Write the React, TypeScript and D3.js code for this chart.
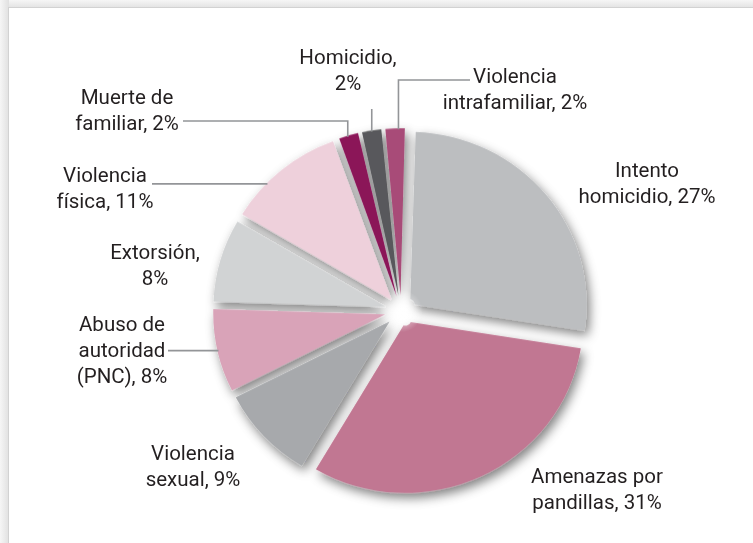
import React from "react";
import * as d3 from "d3";

const categories = [
  "Intento homicidio",
  "Amenazas por pandillas",
  "Violencia sexual",
  "Abuso de autoridad (PNC)",
  "Extorsión",
  "Violencia física",
  "Muerte de familiar",
  "Homicidio",
  "Violencia intrafamiliar",
];
const values = [27, 31, 9, 8, 8, 11, 2, 2, 2];
const labelLines = [
  ["Intento", "homicidio, 27%"],
  ["Amenazas por", "pandillas, 31%"],
  ["Violencia", "sexual, 9%"],
  ["Abuso de", "autoridad", "(PNC), 8%"],
  ["Extorsión,", "8%"],
  ["Violencia", "física, 11%"],
  ["Muerte de", "familiar, 2%"],
  ["Homicidio,", "2%"],
  ["Violencia", "intrafamiliar, 2%"],
];
const colors = [
  "#bcbec0",
  "#c17792",
  "#a7a9ac",
  "#d9a3b8",
  "#d1d3d4",
  "#eed0db",
  "#8b1458",
  "#58595b",
  "#a84c78",
];

// layout (not data)
const W = 753;
const H = 543;
const CX = 401;
const CY = 311;
const R = 178;
const SY = 0.972;
const ROT = (1.8 * Math.PI) / 180;
const EXPLODE = 10;
const PAD = 0.016;
const FONT = 20.5;
const LH = 26;
const labelPos: { x: number; y: number }[] = [
  { x: 647, y: 177 },
  { x: 597, y: 483 },
  { x: 193, y: 460 },
  { x: 122, y: 331 },
  { x: 155, y: 259 },
  { x: 105, y: 182 },
  { x: 127, y: 104 },
  { x: 348, y: 64 },
  { x: 515, y: 83 },
];
type Leader =
  | { kind: "h"; t: number; toX: number }
  | { kind: "v"; t: number; toY: number }
  | { kind: "vh"; t: number; toY: number; toX: number }
  | null;
const leaders: Leader[] = [
  null,
  null,
  null,
  { kind: "h", t: 0.5, toX: 168 },
  null,
  { kind: "h", t: 0.34, toX: 152 },
  { kind: "vh", t: 0.45, toY: 121, toX: 183 },
  { kind: "v", t: 0.5, toY: 109 },
  { kind: "vh", t: 0.65, toY: 80, toX: 470 },
];

export default function App() {
  const pie = d3
    .pie<number>()
    .sort(null)
    .startAngle(ROT)
    .endAngle(ROT + 2 * Math.PI)
    .value((d) => d);
  const arcs = pie(values);
  const arcGen = d3
    .arc<d3.PieArcDatum<number>>()
    .innerRadius(6)
    .outerRadius(R)
    .padAngle(PAD)
    .padRadius(R);

  const slices = arcs.map((a, i) => {
    const mid = (a.startAngle + a.endAngle) / 2;
    const ox = Math.sin(mid) * EXPLODE;
    const oy = -Math.cos(mid) * EXPLODE;
    return { a, i, ox, oy };
  });

  const leaderPaths = slices.map(({ a, i, ox, oy }) => {
    const L = leaders[i];
    if (!L) return null;
    const ang = a.startAngle + (a.endAngle - a.startAngle) * L.t;
    const px = CX + ox + Math.sin(ang) * (R - 1);
    const py = CY + (oy - Math.cos(ang) * (R - 1)) * SY;
    const p = d3.path();
    p.moveTo(px, py);
    if (L.kind === "h") {
      p.lineTo(L.toX, py);
    } else if (L.kind === "v") {
      p.lineTo(px, L.toY);
    } else {
      p.lineTo(px, L.toY);
      p.lineTo(L.toX, L.toY);
    }
    return p.toString();
  });

  return (
    <svg
      width={W}
      height={H}
      style={{ position: "absolute", left: 0, top: 0, display: "block" }}
      fontFamily="Roboto, 'Noto Sans', sans-serif"
    >
      <defs>
        <linearGradient id="topg" x1="0" y1="0" x2="0" y2="1">
          <stop offset="0" stopColor="#f6f6f6" />
          <stop offset="1" stopColor="#e2e2e2" />
        </linearGradient>
        <linearGradient id="leftg" x1="0" y1="0" x2="1" y2="0">
          <stop offset="0" stopColor="#f6f6f6" />
          <stop offset="1" stopColor="#e0e0e0" />
        </linearGradient>
        <filter id="shadow" x="-20%" y="-20%" width="140%" height="140%">
          <feGaussianBlur in="SourceAlpha" stdDeviation="5.5" />
          <feOffset dx="3" dy="5" result="b" />
          <feFlood floodColor="#000" floodOpacity="0.5" />
          <feComposite in2="b" operator="in" result="s" />
          <feMerge>
            <feMergeNode in="s" />
            <feMergeNode in="SourceGraphic" />
          </feMerge>
        </filter>
        <radialGradient id="glow" cx="0.5" cy="0.5" r="0.5">
          <stop offset="0" stopColor="#ffffff" stopOpacity="0.9" />
          <stop offset="1" stopColor="#ffffff" stopOpacity="0" />
        </radialGradient>
      </defs>
      <rect x={0} y={0} width={W} height={H} fill="#ffffff" />
      <rect x={0} y={0} width={W} height={8} fill="url(#topg)" />
      <rect x={0} y={0} width={9} height={H} fill="url(#leftg)" />
      <rect x={8} y={7} width={W - 8} height={1} fill="#d2d2d2" />
      <rect x={8} y={7} width={1} height={H - 7} fill="#d2d2d2" />

      <g transform={`translate(${CX},${CY}) scale(1,${SY})`}>
        <g filter="url(#shadow)">
          {slices.map(({ a, i, ox, oy }) => (
            <path
              key={categories[i]}
              d={arcGen(a) || ""}
              transform={`translate(${ox},${oy})`}
              fill={colors[i]}
            />
          ))}
        </g>
        <circle r={22} fill="url(#glow)" />
      </g>

      <g fill="none" stroke="#939598" strokeWidth={1.6}>
        {leaderPaths.map((d, i) => (d ? <path key={i} d={d} /> : null))}
      </g>

      <g fill="#231f20" fontSize={FONT} textAnchor="middle">
        {labelLines.map((lines, i) => (
          <text key={categories[i]} x={labelPos[i].x} y={labelPos[i].y}>
            {lines.map((ln, j) => (
              <tspan key={j} x={labelPos[i].x} dy={j === 0 ? 0 : LH}>
                {ln}
              </tspan>
            ))}
          </text>
        ))}
      </g>
    </svg>
  );
}
